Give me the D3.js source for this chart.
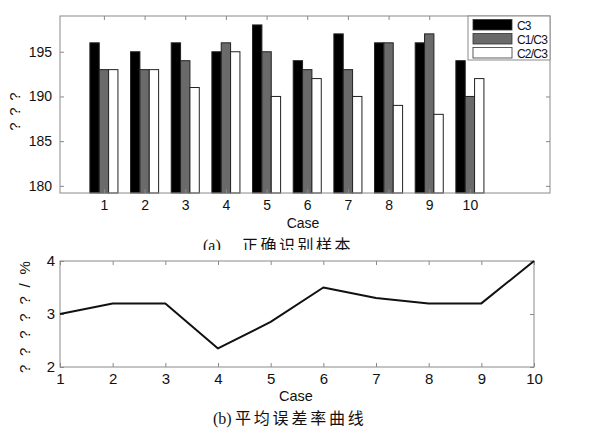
<!DOCTYPE html>
<html>
<head>
<meta charset="utf-8">
<script src="https://cdn.jsdelivr.net/npm/d3@7"></script>
<style>
  html, body { margin: 0; padding: 0; background: #fff; }
  svg { display: block; }
  text { font-family: "Liberation Sans", Arial, sans-serif; fill: #111; }
  .cjk { font-family: "Noto Sans CJK SC", sans-serif; }
  .serif { font-family: "Liberation Serif", serif; }
</style>
</head>
<body>
<svg id="chart" width="605" height="430"></svg>
<script>
// Recognition counts per case for the three classifiers
const cases = [1, 2, 3, 4, 5, 6, 7, 8, 9, 10];
const seriesNames = ["C3", "C1/C3", "C2/C3"];
const c3Values   = [196, 195, 196, 195, 198, 194, 197, 196, 196, 194];
const c1c3Values = [193, 193, 194, 196, 195, 193, 193, 196, 197, 190];
const c2c3Values = [193, 193, 191, 195, 190, 192, 190, 189, 188, 192];
const barTicks = [180, 185, 190, 195];

// Mean error rate (%) per case
const errorRate = [3.0, 3.2, 3.2, 2.35, 2.85, 3.5, 3.3, 3.2, 3.2, 4.0];
const errTicks = [2, 3, 4];

const seriesColors = ["#000000", "#6a6a6a", "#ffffff"];
const frameColor = "#8a8a8a";

const svg = d3.select("#chart");
const defs = svg.append("defs");

// ---------- (a) grouped bars ----------
const A = { left: 60, right: 550, top: 16, bottom: 193 };
const xA = d3.scaleLinear().domain([-0.08, 11.97]).range([A.left, A.right]);
const yA = d3.scaleLinear().domain([179.2, 199]).range([A.bottom, A.top]);
const barW = 0.23;
const allSeries = [c3Values, c1c3Values, c2c3Values];

const gA = svg.append("g");
allSeries.forEach((vals, s) => {
  gA.append("g").selectAll("rect")
    .data(cases)
    .join("rect")
    .attr("x", (c) => xA(c + (s - 1) * barW - barW / 2))
    .attr("width", xA(barW) - xA(0))
    .attr("y", (c, i) => yA(vals[i]))
    .attr("height", (c, i) => yA.range()[0] - yA(vals[i]))
    .attr("fill", seriesColors[s])
    .attr("stroke", "#222")
    .attr("stroke-width", 1);
});

// frame and ticks
gA.append("rect")
  .attr("x", A.left).attr("y", A.top)
  .attr("width", A.right - A.left).attr("height", A.bottom - A.top)
  .attr("fill", "none").attr("stroke", frameColor);

const gxA = gA.append("g").attr("transform", `translate(0,${A.bottom})`)
  .call(d3.axisBottom(xA).tickValues(cases).tickSizeInner(-4).tickSizeOuter(0).tickPadding(7));
const gxtA = gA.append("g").attr("transform", `translate(0,${A.top})`)
  .call(d3.axisTop(xA).tickValues(cases).tickSizeInner(-4).tickSizeOuter(0).tickFormat(""));
const gyA = gA.append("g").attr("transform", `translate(${A.left},0)`)
  .call(d3.axisLeft(yA).tickValues(barTicks).tickSizeInner(-4).tickSizeOuter(0).tickPadding(8).tickFormat(d3.format("d")));
const gyrA = gA.append("g").attr("transform", `translate(${A.right},0)`)
  .call(d3.axisRight(yA).tickValues(barTicks).tickSizeInner(-4).tickSizeOuter(0).tickFormat(""));

// ---------- (b) error-rate line ----------
const B = { left: 60, right: 534, top: 261, bottom: 367 };
const xB = d3.scaleLinear().domain([1, 10]).range([B.left, B.right]);
const yB = d3.scaleLinear().domain([2, 4]).range([B.bottom, B.top]);

const gB = svg.append("g");
gB.append("rect")
  .attr("x", B.left).attr("y", B.top)
  .attr("width", B.right - B.left).attr("height", B.bottom - B.top)
  .attr("fill", "none").attr("stroke", frameColor);

const gxB = gB.append("g").attr("transform", `translate(0,${B.bottom})`)
  .call(d3.axisBottom(xB).tickValues(cases).tickSizeInner(-4).tickSizeOuter(0).tickPadding(6));
const gxtB = gB.append("g").attr("transform", `translate(0,${B.top})`)
  .call(d3.axisTop(xB).tickValues(cases).tickSizeInner(-4).tickSizeOuter(0).tickFormat(""));
const gyB = gB.append("g").attr("transform", `translate(${B.left},0)`)
  .call(d3.axisLeft(yB).tickValues(errTicks).tickSizeInner(-4).tickSizeOuter(0).tickPadding(5).tickFormat(d3.format("d")));
const gyrB = gB.append("g").attr("transform", `translate(${B.right},0)`)
  .call(d3.axisRight(yB).tickValues(errTicks).tickSizeInner(-4).tickSizeOuter(0).tickFormat(""));

gB.append("path")
  .datum(errorRate)
  .attr("d", d3.line().x((d, i) => xB(cases[i])).y((d) => yB(d)))
  .attr("fill", "none")
  .attr("stroke", "#111")
  .attr("stroke-width", 2)
  .attr("stroke-linejoin", "round");

// common axis styling
[gxA, gxtA, gyA, gyrA, gxB, gxtB, gyB, gyrB].forEach((g) => {
  g.select(".domain").remove();
  g.selectAll(".tick line").attr("stroke", frameColor);
  g.selectAll(".tick text").attr("font-family", "Liberation Sans, Arial, sans-serif").attr("fill", "#111");
});
[gxA, gyA].forEach((g) => g.selectAll(".tick text").attr("font-size", 14));
[gxB, gyB].forEach((g) => g.selectAll(".tick text").attr("font-size", 15));

// ---------- legend ----------
defs.append("clipPath").attr("id", "legclip")
  .append("rect").attr("x", 0).attr("y", 0).attr("width", 551).attr("height", 430);
const leg = svg.append("g").attr("clip-path", "url(#legclip)");
leg.append("rect")
  .attr("x", 468).attr("y", 16).attr("width", 82).attr("height", 44)
  .attr("fill", "#fff").attr("stroke", frameColor);
seriesNames.forEach((name, i) => {
  const y0 = 19.5 + i * 14;
  leg.append("rect")
    .attr("x", 473).attr("y", y0).attr("width", 39).attr("height", 10.5)
    .attr("fill", seriesColors[i]).attr("stroke", "#333").attr("stroke-width", 0.8);
  leg.append("text")
    .attr("x", 517).attr("y", y0 + 10)
    .attr("font-size", 12).attr("letter-spacing", -0.8)
    .text(name);
});

// ---------- axis titles and captions ----------
svg.append("text")
  .attr("transform", "translate(20,111) rotate(-90)")
  .attr("text-anchor", "middle").attr("font-size", 15).attr("letter-spacing", 1.2)
  .text("? ? ?");
svg.append("text")
  .attr("x", 303).attr("y", 228)
  .attr("text-anchor", "middle").attr("font-size", 14)
  .text("Case");

// caption (a) is partly covered by the lower panel
defs.append("clipPath").attr("id", "capclip")
  .append("rect").attr("x", 0).attr("y", 0).attr("width", 605).attr("height", 250);
const capA = svg.append("g").attr("clip-path", "url(#capclip)");
capA.append("text").attr("class", "serif")
  .attr("x", 203).attr("y", 251).attr("font-size", 16)
  .text("(a)");
capA.append("text").attr("class", "cjk")
  .attr("x", 242).attr("y", 251).attr("font-size", 16).attr("letter-spacing", 2.5)
  .text("正确识别样本");

svg.append("text")
  .attr("transform", "translate(30,316) rotate(-90)")
  .attr("text-anchor", "middle").attr("font-size", 15).attr("letter-spacing", 2.3)
  .text("? ? ? ? ? / %");
svg.append("text")
  .attr("x", 296).attr("y", 401)
  .attr("text-anchor", "middle").attr("font-size", 14.5)
  .text("Case");
svg.append("text").attr("class", "serif")
  .attr("x", 213).attr("y", 424).attr("font-size", 16)
  .text("(b)");
svg.append("text").attr("class", "cjk")
  .attr("x", 235).attr("y", 424).attr("font-size", 16).attr("letter-spacing", 2.8)
  .text("平均误差率曲线");
</script>
</body>
</html>
